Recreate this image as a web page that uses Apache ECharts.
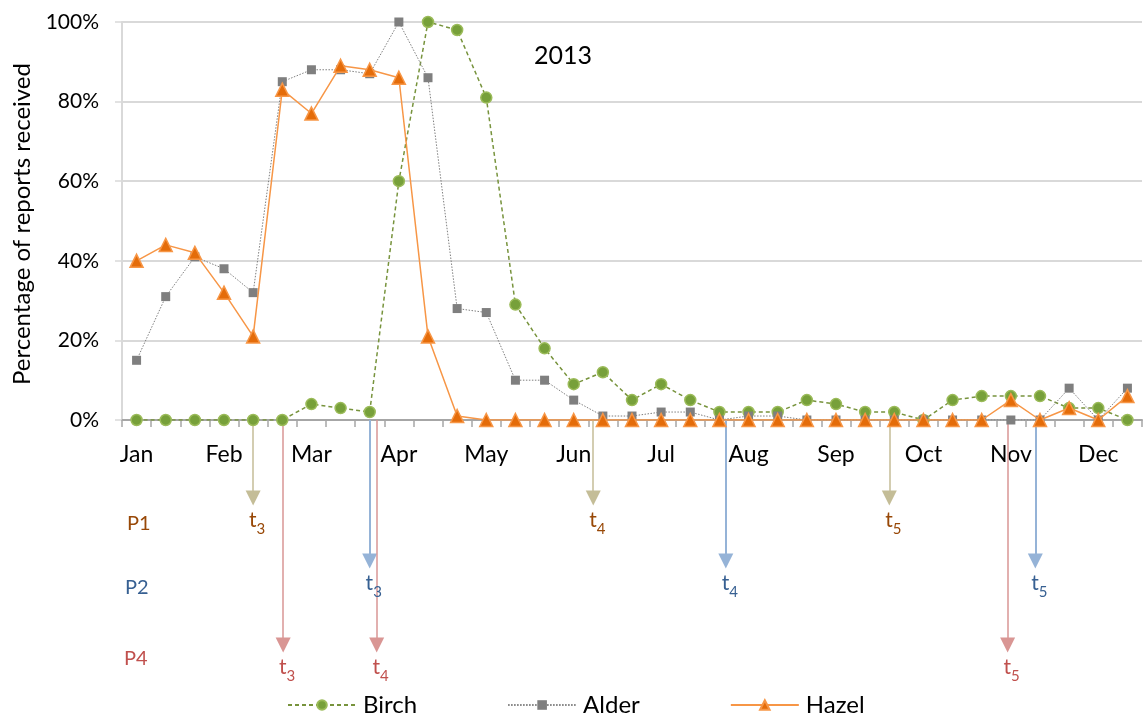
<!DOCTYPE html>
<html><head><meta charset="utf-8">
<script src="https://cdn.jsdelivr.net/npm/echarts@6/dist/echarts.min.js"></script>
<style>html,body{margin:0;padding:0;background:#fff}#c{width:1148px;height:717px}</style>
</head><body><div id="c"></div>
<script>
const months = ['Jan','Feb','Mar','Apr','May','Jun','Jul','Aug','Sep','Oct','Nov','Dec'];
const categories = months.flatMap(m => [m, '', '']).slice(0, 35);
const birch = [0,0,0,0,0,0,4,3,2,60,100,98,81,29,18,9,12,5,9,5,2,2,2,5,4,2,2,0,5,6,6,6,3,3,0];
const alder = [15,31,41,38,32,85,88,88,87,100,86,28,27,10,10,5,1,1,2,2,0,1,1,0,0,0,0,0,0,0,0,0,8,0,8];
const hazel = [40,44,42,32,21,83,77,89,88,86,21,1,0,0,0,0,0,0,0,0,0,0,0,0,0,0,0,0,0,0,5,0,3,0,6];
const yTicks = [0,20,40,60,80,100];
// phase arrows: week position (category index) and subscript
const p1Arrows = [[4.0,'3'],[15.67,'4'],[25.83,'5']];
const p2Arrows = [[8.0,'3'],[20.22,'4'],[30.84,'5']];
const p4Arrows = [[5.03,'3'],[8.24,'4'],[29.89,'5']];
const lanes = {P1: 1.04, P2: 1.88, P4: 3.0};

const FONT = 'Lato';
function arrowSeries(name, arr, lane, lineColor, textColor, w) {
  return {
    type: 'lines', name: name, coordinateSystem: 'cartesian2d', xAxisIndex: 1, yAxisIndex: 1,
    polyline: false, symbol: ['none', 'triangle'], symbolSize: [14, 15], silent: true,
    lineStyle: {color: lineColor, width: w, opacity: 1, curveness: 0},
    label: {
      show: true, position: 'end', distance: 12, offset: [4, 0],
      formatter: p => '{t|t}{s|' + p.data.sub + '}',
      rich: {
        t: {fontFamily: FONT, fontSize: 21, color: textColor, verticalAlign: 'top', lineHeight: 24},
        s: {fontFamily: FONT, fontSize: 15, color: textColor, verticalAlign: 'top', padding: [12, 0, 0, 0], lineHeight: 16}
      }
    },
    data: arr.map(a => ({coords: [[a[0], 0], [a[0], lane]], sub: a[1]}))
  };
}
const chart = echarts.init(document.getElementById('c'));
chart.setOption({
  animation: false,
  backgroundColor: '#fff',
  textStyle: {fontFamily: FONT},
  title: {text: '2013', left: 529, top: 38, textStyle: {fontFamily: FONT, fontSize: 25, fontWeight: 'normal', color: '#000'}},
  legend: {
    top: 688, left: 282, itemWidth: 68, itemHeight: 12, itemGap: 90,
    data: ['Birch', 'Alder', 'Hazel'],
    textStyle: {fontFamily: FONT, fontSize: 24, color: '#000', padding: [0, 0, 0, 2]}
  },
  grid: [
    {left: 122, right: 6, top: 22, height: 398, containLabel: false},
    {left: 122, right: 6, top: 420, height: 270}
  ],
  xAxis: [
    {type: 'category', data: categories, gridIndex: 0, boundaryGap: true,
     axisLine: {lineStyle: {color: '#a6a6a6', width: 2}},
     axisTick: {show: true, interval: 0, length: 7, lineStyle: {color: '#a6a6a6', width: 1.5}},
     axisLabel: {interval: 0, margin: 23, fontFamily: FONT, fontSize: 23, color: '#000'}},
    {type: 'value', gridIndex: 1, min: -0.5, max: 34.5, show: false}
  ],
  yAxis: [
    {type: 'value', gridIndex: 0, min: 0, max: 100, interval: 20,
     name: 'Percentage of reports received', nameLocation: 'middle', nameGap: 87, nameRotate: 90,
     nameTextStyle: {fontFamily: FONT, fontSize: 24, color: '#000', padding: [0, 6, 0, 0]},
     axisLine: {show: true, lineStyle: {color: '#d9d9d9', width: 2}},
     axisTick: {show: true, length: 7, lineStyle: {color: '#d9d9d9', width: 1.5}},
     axisLabel: {formatter: '{value}%', margin: 23, fontFamily: FONT, fontSize: 21, color: '#000'},
     splitLine: {lineStyle: {color: '#d9d9d9', width: 2}}},
    {type: 'value', gridIndex: 1, min: 0, max: 3.6, inverse: true, show: false}
  ],
  graphic: [
    {type: 'text', left: 127, top: 514, style: {text: 'P1', fontFamily: FONT, fontSize: 20, fill: '#984807'}},
    {type: 'text', left: 125, top: 578, style: {text: 'P2', fontFamily: FONT, fontSize: 20, fill: '#376092'}},
    {type: 'text', left: 124, top: 649, style: {text: 'P4', fontFamily: FONT, fontSize: 20, fill: '#c0504d'}}
  ],
  series: [
    arrowSeries('p1', p1Arrows, lanes.P1, '#c4bd97', '#984807', 1.5),
    arrowSeries('p2', p2Arrows, lanes.P2, '#95b3d7', '#376092', 2),
    arrowSeries('p4', p4Arrows, lanes.P4, '#d99694', '#c0504d', 1.5),
    {name: 'Birch', type: 'line', data: birch, symbol: 'circle', symbolSize: 11,
     lineStyle: {color: '#77933c', width: 1.5, type: [4, 3]},
     itemStyle: {color: '#77a03a', borderColor: '#9bbb59', borderWidth: 1.5}, z: 3},
    {name: 'Alder', type: 'line', data: alder, symbol: 'rect', symbolSize: 9,
     lineStyle: {color: '#7f7f7f', width: 1, type: [1.5, 1.5]},
     itemStyle: {color: '#7f7f7f', borderColor: '#7f7f7f', borderWidth: 0}, z: 4},
    {name: 'Hazel', type: 'line', data: hazel, symbol: 'triangle', symbolSize: 13,
     lineStyle: {color: '#f79646', width: 1.5},
     itemStyle: {color: '#e46c0a', borderColor: '#f79646', borderWidth: 1.5}, z: 5}
  ]
});
</script></body></html>
